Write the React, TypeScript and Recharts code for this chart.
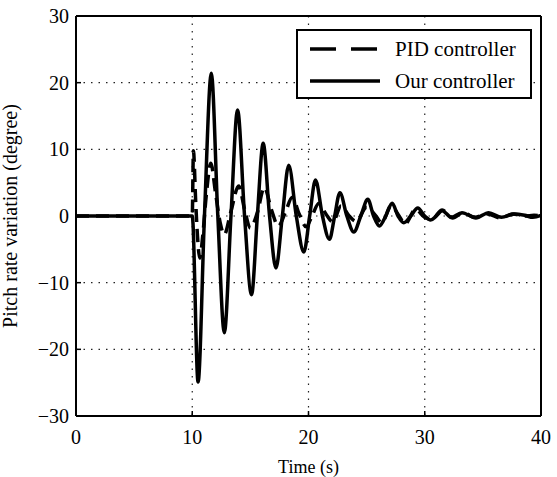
import React from 'react';
import { LineChart, Line, XAxis, YAxis, CartesianGrid, Label } from 'recharts';

// our controller (solid)
const ourTime = [0, 10, 10.5, 11.05, 11.64, 12.2, 12.76, 13.33, 13.9, 14.5, 15.1, 15.6, 16.1, 16.65, 17.2, 17.75, 18.3, 18.95, 19.6, 20.1, 20.6, 21.2, 21.8, 22.25, 22.7, 23.3, 23.9, 24.5, 25.1, 25.6, 26.1, 26.65, 27.2, 27.7, 28.2, 28.8, 29.4, 30.0, 30.5, 31.0, 31.5, 32.3, 33.2, 34.4, 35.5, 36.6, 37.7, 38.6, 39.3, 40];
const ourValue = [0, 0, -24.9, 0, 21.4, 0, -17.5, 0, 15.9, 0, -11.8, 0, 10.9, 0, -7.8, 0, 7.6, 0, -5.4, 0, 5.4, 0, -3.5, 0, 3.5, 0, -2.4, 0, 2.5, 0, -1.5, 0, 1.9, 0, -1.0, 0, 1.2, 0, -0.6, 0, 0.8, -0.2, 0.5, -0.3, 0.5, -0.2, 0.3, 0.1, -0.2, 0.1];

// PID controller (dashed)
const pidTime = [0, 10, 10.1, 10.3, 10.45, 10.65, 10.9, 11.2, 11.6, 12.0, 12.4, 12.75, 13.3, 14.0, 14.5, 15.0, 15.6, 16.2, 16.8, 17.4, 18.0, 18.6, 19.2, 19.8, 20.3, 20.9, 21.5, 22.1, 22.8, 23.5, 24.1, 25.0, 25.8, 26.3, 27.1, 27.8, 28.3, 29.2, 30.0, 30.6, 31.5, 32.4, 33.3, 34.3, 35.4, 36.5, 37.6, 38.6, 39.4, 40];
const pidValue = [0, 0, 9.8, 2, -3, -6.3, -3, 3, 7.9, 3.5, -1, -2.8, 0.5, 4.5, 1, -1.8, 0.5, 4.3, 1, -1.5, 0.5, 2.8, 0.3, -1.6, 0, 1.9, 0.3, -0.9, 1.5, 0, -0.8, 1.3, 0, -1.0, 1.5, 0, -1.2, 1.0, -0.2, -0.5, 0.9, -0.3, 0.5, -0.2, 0.3, -0.3, 0.3, 0, 0.1, 0];

const xTicks = [0, 10, 20, 30, 40];
const yTicks = [-30, -20, -10, 0, 10, 20, 30];

const ourData = ourTime.map((t, i) => ({ t, v: ourValue[i] }));
const pidData = pidTime.map((t, i) => ({ t, v: pidValue[i] }));

const FONT = '"Liberation Serif", "Times New Roman", serif';
const fmt = (v: number) => (v < 0 ? '\u2212' + Math.abs(v) : String(v));
const tickStyle = { fontSize: 20, fill: '#000', fontFamily: FONT };

export default function App() {
    return (
        <div style={{ position: 'absolute', left: 0, top: 0, width: 557, height: 477, background: '#fff' }}>
            <LineChart width={557} height={477} margin={{ top: 0, right: 0, bottom: 0, left: 0 }}>
                <CartesianGrid stroke="#222" strokeDasharray="1.5 6" strokeWidth={1.2} />
                <XAxis xAxisId={0} dataKey="t" type="number" domain={[0, 40]} ticks={xTicks}
                    allowDuplicatedCategory={false} height={61} tickSize={-5} tickMargin={19}
                    axisLine={{ stroke: '#000', strokeWidth: 2 }} tickLine={{ stroke: '#000', strokeWidth: 1.5 }}
                    tick={tickStyle} tickFormatter={fmt}>
                    <Label value="Time (s)" position="insideBottom" offset={4}
                        style={{ fontSize: 18, fill: '#000', fontFamily: FONT }} />
                </XAxis>
                <XAxis xAxisId="top" orientation="top" type="number" domain={[0, 40]} ticks={xTicks}
                    height={16} tickSize={-5} tick={false}
                    axisLine={{ stroke: '#000', strokeWidth: 2 }} tickLine={{ stroke: '#000', strokeWidth: 1.5 }} />
                <YAxis yAxisId={0} type="number" domain={[-30, 30]} ticks={yTicks} width={76}
                    tickSize={-5} tickMargin={12}
                    axisLine={{ stroke: '#000', strokeWidth: 2 }} tickLine={{ stroke: '#000', strokeWidth: 1.5 }}
                    tick={tickStyle} tickFormatter={fmt}>
                    <Label value="Pitch rate variation (degree)" angle={-90} position="insideLeft" offset={10}
                        style={{ fontSize: 20, fill: '#000', fontFamily: FONT, textAnchor: 'middle' }} />
                </YAxis>
                <YAxis yAxisId="right" orientation="right" type="number" domain={[-30, 30]} ticks={yTicks}
                    width={16} tickSize={-5} tick={false}
                    axisLine={{ stroke: '#000', strokeWidth: 2 }} tickLine={{ stroke: '#000', strokeWidth: 1.5 }} />
                <Line data={pidData} dataKey="v" type="monotone" stroke="#000" strokeWidth={3.5}
                    strokeDasharray="13 7" dot={false} isAnimationActive={false} />
                <Line data={ourData} dataKey="v" type="monotone" stroke="#000" strokeWidth={3.5}
                    dot={false} isAnimationActive={false} />
            </LineChart>
            <div style={{ position: 'absolute', left: 296, top: 29, width: 236, height: 70, boxSizing: 'border-box', border: '2px solid #000', background: '#fff' }}>
                <svg width={232} height={66} style={{ display: 'block' }}>
                    <line x1={12} x2={82} y1={18} y2={18} stroke="#000" strokeWidth={3.5} strokeDasharray="26 15" />
                    <line x1={12} x2={82} y1={50} y2={50} stroke="#000" strokeWidth={3.5} />
                    <text x={97} y={18} dy="0.35em" fontSize={21} fontFamily={FONT}>PID controller</text>
                    <text x={97} y={50} dy="0.35em" fontSize={21} fontFamily={FONT}>Our controller</text>
                </svg>
            </div>
        </div>
    );
}
